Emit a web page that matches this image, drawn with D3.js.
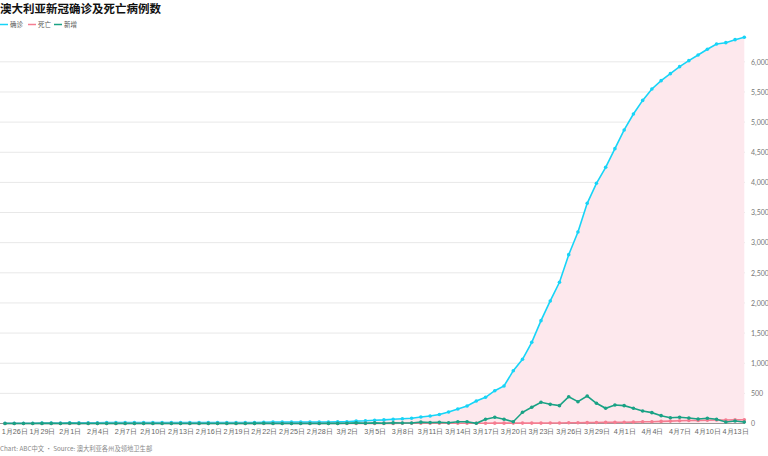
<!DOCTYPE html>
<html><head><meta charset="utf-8">
<script src="https://cdn.jsdelivr.net/npm/d3@7"></script>
<style>
html,body{margin:0;padding:0;background:#fff;}
svg{display:block;font-family:"Noto Sans CJK SC","Noto Sans",sans-serif;}
</style></head>
<body>
<script>
const startDate = "2020-01-25";
const confirmed = [4,4,5,5,7,9,9,12,12,12,13,14,15,15,15,15,15,15,15,15,15,15,15,15,15,15,15,17,21,22,22,22,23,23,23,25,
27,30,40,45,55,60,70,78,86,108,124,150,192,240,290,373,435,544,622,876,1065,1347,1706,2033,2343,2801,3177,3653,3985,
4250,4560,4870,5135,5360,5550,5688,5804,5920,6020,6114,6209,6297,6318,6368,6408];
const deaths = [0,0,0,0,0,0,0,0,0,0,0,0,0,0,0,0,0,0,0,0,0,0,0,0,0,0,0,0,0,0,0,0,0,0,0,0,
1,1,1,2,2,2,2,3,3,3,3,3,3,3,5,5,5,6,6,7,7,7,7,8,8,13,13,14,16,18,19,21,23,28,30,35,40,45,51,51,54,57,59,61,61];
const newCases = [1,0,1,0,2,2,0,3,0,0,1,1,1,0,0,0,0,0,0,0,0,0,0,0,0,0,0,2,4,1,0,0,1,0,0,2,
2,3,10,5,10,5,10,8,8,22,16,20,13,30,30,3,70,103,70,30,186,269,352,318,296,445,362,456,335,252,307,296,252,207,180,130,96,103,91,75,86,70,25,41,25];
const yTicks = [0,500,1000,1500,2000,2500,3000,3500,4000,4500,5000,5500,6000];
const seriesNames = ["确诊","死亡","新增"];
const seriesColors = ["#17d4f7","#f57d91","#1aa285"];
const title = "澳大利亚新冠确诊及死亡病例数";
const footer = "Chart: ABC中文 • Source: 澳大利亚各州及领地卫生部";

const W = 768, H = 456;
const parse = d3.timeParse("%Y-%m-%d");
const d0 = parse(startDate);
const dates = confirmed.map((_, i) => d3.timeDay.offset(d0, i));

const svg = d3.select("body").append("svg").attr("width", W).attr("height", H);

const x = d3.scaleTime().domain([dates[0], dates[dates.length-1]]).range([5, 744.3]);
const y = d3.scaleLinear().domain([0, 6500]).range([423.5, 31.7]);

// gridlines
svg.append("g").selectAll("line").data(yTicks.filter(d=>d>0)).join("line")
  .attr("x1", 0).attr("x2", 745).attr("y1", d=>y(d)).attr("y2", d=>y(d))
  .attr("stroke", "#e8e8e8").attr("stroke-width", 1);

// area under confirmed
svg.append("path").datum(confirmed)
  .attr("fill", "#fde8ed")
  .attr("d", d3.area().x((d,i)=>x(dates[i])).y0(y(0)).y1(d=>y(d)));

// y axis labels (right)
const yAxis = d3.axisRight(y).tickValues(yTicks).tickSize(0).tickPadding(0).tickFormat(d3.format(","));
const gy = svg.append("g").attr("transform", "translate(751,0)").call(yAxis);
gy.select(".domain").remove();
gy.selectAll("text").attr("fill", "#777").style("font-size", "7px").style("font-family", "Lato,'Noto Sans',sans-serif");

// x axis
const tickDates = dates.filter((d,i)=> i % 3 === 1);
const xAxis = d3.axisBottom(x).tickValues(tickDates).tickSize(0).tickPadding(5)
  .tickFormat(d => (d.getMonth()+1) + "月" + d.getDate() + "日");
const gx = svg.append("g").attr("transform", `translate(0,${y(0)})`).call(xAxis);
gx.select(".domain").attr("d", `M0,0H745`).attr("stroke", "#999");
gx.selectAll("text").attr("fill", "#666").style("font-size", "7.2px");

// lines
const line = d3.line().x((d,i)=>x(dates[i])).y(d=>y(d));
const allSeries = [confirmed, deaths, newCases];
allSeries.forEach((s, k) => {
  const g = svg.append("g");
  g.append("path").datum(s).attr("fill","none").attr("stroke", seriesColors[k])
    .attr("stroke-width", 1.6).attr("d", line);
  g.selectAll("circle").data(s).join("circle")
    .attr("cx", (d,i)=>x(dates[i])).attr("cy", d=>y(d)).attr("r", 1.8)
    .attr("fill", seriesColors[k]);
});

// title
svg.append("text").attr("x", 0).attr("y", 13).text(title)
  .style("font-size", "11.5px").style("font-weight", "700").attr("fill", "#111");

// legend
const legendX = [0, 28, 54];
seriesNames.forEach((n, k) => {
  svg.append("line").attr("x1", legendX[k]).attr("x2", legendX[k]+8).attr("y1", 24.5).attr("y2", 24.5)
    .attr("stroke", seriesColors[k]).attr("stroke-width", 1.5);
  svg.append("text").attr("x", legendX[k]+10).attr("y", 27).text(n)
    .style("font-size", "6.5px").attr("fill", "#555");
});

// footer
svg.append("text").attr("x", 0).attr("y", 451).text(footer)
  .style("font-size", "6.3px").attr("fill", "#888");
</script>
</body></html>
